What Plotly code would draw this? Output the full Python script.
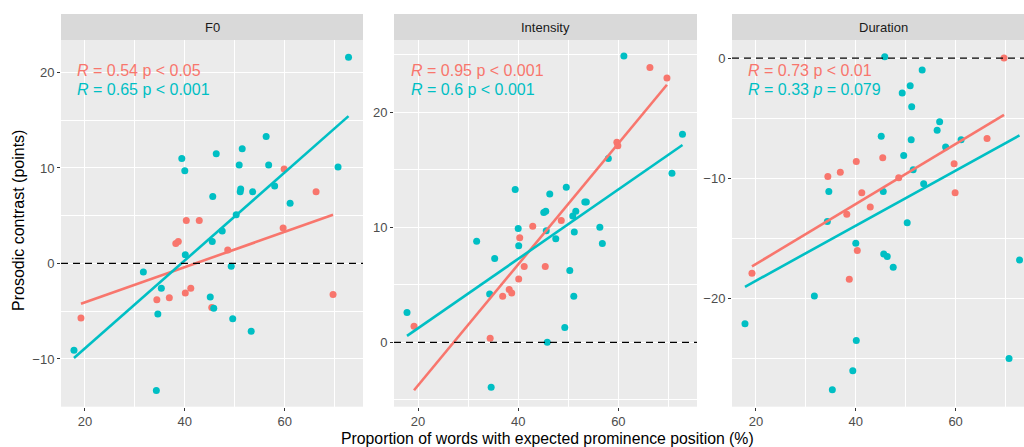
import numpy as np
import plotly.graph_objects as go

# ---- data ----
panels = ["F0", "Intensity", "Duration"]

x_red = [19.2, 34.4, 36.9, 38.2, 38.7, 40.1, 40.3, 41.2, 42.9, 45.4, 48.6, 59.7, 59.9, 66.3, 69.7]
f0_red = [-5.7, -3.8, -3.6, 2.1, 2.3, -3.1, 4.5, -2.6, 4.5, -4.6, 1.4, 3.7, 9.9, 7.5, -3.25]
int_red = [1.4, 0.35, 4.0, 4.6, 4.3, 5.5, 9.1, 6.6, 10.1, 6.6, 10.6, 17.4, 17.1, 23.9, 23.0]
dur_red = [-17.9, -9.85, -9.5, -13.0, -18.4, -8.6, -16.0, -11.2, -12.4, -8.3, -9.95, -8.8, -11.2, -6.7, 0.0]

x_teal = [17.8, 31.7, 34.3, 34.6, 35.3, 39.4, 40.0, 40.1, 45.1, 45.5, 45.6, 45.8, 46.3, 47.5, 49.3,
          49.6, 50.3, 50.9, 51.1, 51.2, 51.5, 53.3, 53.6, 56.3, 56.8, 58.0, 61.1, 70.7, 72.8]
f0_teal = [-9.1, -0.9, -13.3, -5.3, -2.6, 11.0, 9.7, 0.9, -3.5, 2.3, 7.0, -4.7, 11.5, 3.4, -0.3,
           -5.8, 5.1, 10.3, 7.5, 7.8, 12.0, -7.1, 7.5, 13.3, 10.3, 8.1, 6.3, 10.1, 21.6]
int_teal = [2.6, 8.8, 4.2, -3.9, 7.3, 13.3, 9.9, 8.4, 11.3, 11.4, 9.7, 0.0, 12.9, 9.0, 1.3,
            13.5, 6.25, 11.0, 4.0, 9.6, 11.4, 12.2, 12.2, 10.0, 8.6, 16.0, 24.9, 14.7, 18.1]
dur_teal = [-22.1, -19.8, -13.6, -11.1, -27.6, -26.0, -15.4, -23.5, -6.5, -11.1, -16.3, 0.1, -16.5, -17.4, -2.9,
            -8.1, -13.7, -2.3, -6.8, -4.05, -9.3, -1.0, -10.45, -6.0, -5.3, -7.4, -6.8, -25.0, -16.8]

red_labels = ["<i>R</i> = 0.54 p &lt; 0.05", "<i>R</i> = 0.95 p &lt; 0.001", "<i>R</i> = 0.73 p &lt; 0.01"]
teal_labels = ["<i>R</i> = 0.65 p &lt; 0.001", "<i>R</i> = 0.6 p &lt; 0.001", "<i>R</i> = 0.33 <i>p</i> = 0.079"]

y_ticks = [[-10, 0, 10, 20], [0, 10, 20], [-20, -10, 0]]
x_ticks = [20, 40, 60]

# ---- styling / layout ----
RED = "#F8766D"
TEAL = "#00BFC4"
W, H = 1024, 447
FONT = "Liberation Sans, Arial, sans-serif"

px_left = [61, 394, 732]
px_right = [363, 697, 1024]
x_ranges = [[15.2, 75.7], [15.2, 75.7], [15.2, 73.7]]
y_ranges = [[-15.0, 23.4], [-5.6, 26.3], [-29.0, 1.5]]
top_px, bot_px, strip_top_px = 40, 406.7, 14

series_red = [f0_red, int_red, dur_red]
series_teal = [f0_teal, int_teal, dur_teal]

fig = go.Figure()

def fit_line(xs, ys):
    xs = np.asarray(xs, float); ys = np.asarray(ys, float)
    b, a = np.polyfit(xs, ys, 1)
    xx = np.array([xs.min(), xs.max()])
    return xx, a + b * xx

for i in range(3):
    sfx = "" if i == 0 else str(i + 1)
    xa, ya = "x" + sfx, "y" + sfx
    fig.add_trace(go.Scatter(x=x_red, y=series_red[i], mode="markers", xaxis=xa, yaxis=ya,
                             marker=dict(color=RED, size=7, line=dict(width=0)), showlegend=False))
    fig.add_trace(go.Scatter(x=x_teal, y=series_teal[i], mode="markers", xaxis=xa, yaxis=ya,
                             marker=dict(color=TEAL, size=7, line=dict(width=0)), showlegend=False))
    lx, ly = fit_line(x_red, series_red[i])
    fig.add_trace(go.Scatter(x=lx, y=ly, mode="lines", xaxis=xa, yaxis=ya,
                             line=dict(color=RED, width=2.6), showlegend=False))
    lx, ly = fit_line(x_teal, series_teal[i])
    fig.add_trace(go.Scatter(x=lx, y=ly, mode="lines", xaxis=xa, yaxis=ya,
                             line=dict(color=TEAL, width=2.6), showlegend=False))

    dom_x = [px_left[i] / W, px_right[i] / W]
    dom_y = [1 - bot_px / H, 1 - top_px / H]
    axis_common = dict(showline=False, zeroline=False, ticks="outside", ticklen=3, tickwidth=1,
                       tickcolor="#333333", gridcolor="white", gridwidth=1.1,
                       tickfont=dict(family=FONT, size=13, color="#4D4D4D"))
    fig.update_layout(**{
        "xaxis" + sfx: dict(domain=dom_x, range=x_ranges[i], anchor=ya, tickvals=x_ticks,
                            minor=dict(dtick=10, tick0=0, showgrid=True, gridcolor="white",
                                       gridwidth=0.55, ticks=""),
                            **axis_common),
        "yaxis" + sfx: dict(domain=dom_y, range=y_ranges[i], anchor=xa, tickvals=y_ticks[i],
                            minor=dict(dtick=5, tick0=0, showgrid=True, gridcolor="white",
                                       gridwidth=0.55, ticks=""),
                            **axis_common),
    })
    # dashed zero reference line
    fig.add_shape(type="line", xref=xa + " domain", yref=ya, x0=0, x1=1, y0=0, y1=0,
                  line=dict(color="black", width=1.3, dash="7px,5px"), layer="above")
    # strip
    fig.add_shape(type="rect", xref="paper", yref="paper", x0=dom_x[0], x1=dom_x[1],
                  y0=1 - top_px / H, y1=1 - strip_top_px / H, fillcolor="#D9D9D9",
                  line=dict(width=0), layer="below")
    full_right = px_left[i] + 302
    fig.add_annotation(x=(px_left[i] + full_right) / 2 / W, y=1 - 27 / H, xref="paper", yref="paper",
                       text=panels[i], showarrow=False, xanchor="center", yanchor="middle",
                       font=dict(family=FONT, size=13, color="#1A1A1A"))
    # correlation labels
    lab_x = [75, 409, 746][i]
    fig.add_annotation(x=lab_x / W, y=1 - 70 / H, xref="paper", yref="paper", text=red_labels[i],
                       showarrow=False, xanchor="left", yanchor="middle",
                       font=dict(family=FONT, size=16, color=RED))
    fig.add_annotation(x=lab_x / W, y=1 - 90 / H, xref="paper", yref="paper", text=teal_labels[i],
                       showarrow=False, xanchor="left", yanchor="middle",
                       font=dict(family=FONT, size=16, color=TEAL))

# axis titles
fig.add_annotation(x=547.5 / W, y=1 - 438 / H, xref="paper", yref="paper",
                   text="Proportion of words with expected prominence position (%)", showarrow=False,
                   xanchor="center", yanchor="middle", font=dict(family=FONT, size=15.8, color="black"))
fig.add_annotation(x=18 / W, y=1 - 221 / H, xref="paper", yref="paper", text="Prosodic contrast (points)",
                   showarrow=False, textangle=-90, xanchor="center", yanchor="middle",
                   font=dict(family=FONT, size=16, color="black"))

fig.update_layout(width=W, height=H, margin=dict(l=0, r=0, t=0, b=0),
                  paper_bgcolor="white", plot_bgcolor="#EBEBEB", showlegend=False,
                  font=dict(family=FONT))

fig.write_html("out.html")
